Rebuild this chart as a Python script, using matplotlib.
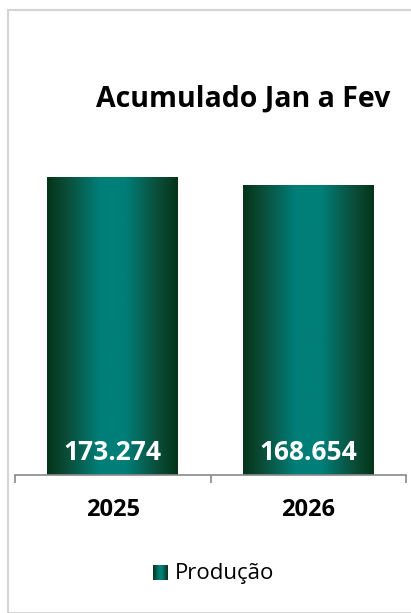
import numpy as np
import matplotlib.pyplot as plt
from matplotlib.colors import LinearSegmentedColormap
from matplotlib.patches import Rectangle

anos = ['2025', '2026']
producao = [173274, 168654]
rotulos = ['173.274', '168.654']
titulo = 'Acumulado Jan a Fev'
legenda = 'Produção'

W, H = 411, 613
fig = plt.figure(figsize=(W / 100, H / 100), dpi=100)
plt.rcParams['font.family'] = ['Open Sans', 'DejaVu Sans']

# borda do gráfico
fig.patches.append(Rectangle((8 / W, 0.5 / H), 1.2, (H - 10.5) / H, transform=fig.transFigure,
                             fill=False, edgecolor='#d4d4d4', linewidth=1.5))

cmap = LinearSegmentedColormap.from_list('verde', [(0, '#03341a'), (0.15, '#0b4d38'), (0.4, '#007e78'),
                                                   (0.6, '#007e78'), (0.85, '#0b4d38'), (1, '#03341a')])
grad = np.linspace(0, 1, 256).reshape(1, -1)

ax = fig.add_axes([15 / W, 138 / H, 391 / W, 343 / H])
largura = 0.67
for i, v in enumerate(producao):
    ax.imshow(grad, cmap=cmap, aspect='auto', extent=[i - largura / 2, i + largura / 2, 0, v], zorder=2)
    ax.annotate(rotulos[i], (i, 0), xytext=(0, 16), textcoords='offset points', ha='center', va='center',
                color='white', fontsize=19, fontweight='bold')
    ax.annotate(anos[i], (i, 0), xycoords=('data', 'axes fraction'), xytext=(0, -25), textcoords='offset points',
                ha='center', va='center', color='black', fontsize=17, fontweight='bold')
ax.set_xlim(-0.5, 1.5)
ax.set_ylim(0, 200000)

for s in ['top', 'right', 'left']:
    ax.spines[s].set_visible(False)
ax.spines['bottom'].set_color('#898989')
ax.spines['bottom'].set_linewidth(1.2)
ax.set_yticks([])
ax.set_xticks([-0.5, 0.5, 1.5])
ax.set_xticklabels([])
ax.tick_params(axis='x', direction='out', length=6, width=1.2, color='#898989')

fig.text(243 / W, 1 - 99 / H, titulo, ha='center', va='center', fontsize=20.5, fontweight='bold')

# legenda
lax = fig.add_axes([153 / W, 33 / H, 15 / W, 15 / H])
lax.imshow(grad, cmap=cmap, aspect='auto')
lax.axis('off')
fig.text(175 / W, 1 - 573 / H, legenda, ha='left', va='center', fontsize=16)

fig.savefig('out.png', dpi=100)
